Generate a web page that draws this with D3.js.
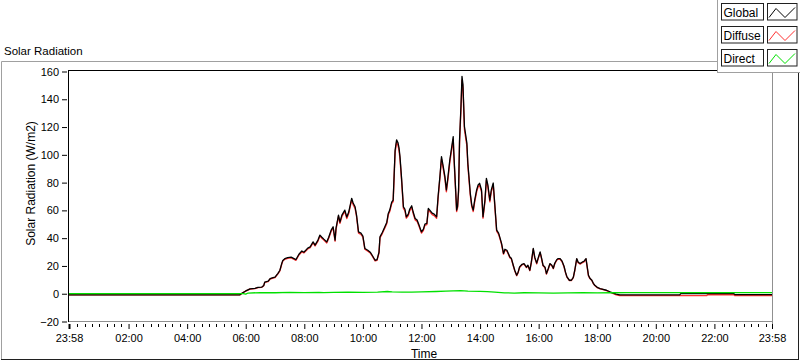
<!DOCTYPE html>
<html><head><meta charset="utf-8">
<script src="https://cdn.jsdelivr.net/npm/d3@7"></script>
<style>body{margin:0;background:#fff}svg{display:block;font-family:"Liberation Sans",Arial,sans-serif}</style>
</head><body><svg id="c" width="800" height="361"></svg>
<script>
// ---- data ----
const times = ["23:58","05:48","05:53","06:00","06:09","06:19","06:25","06:33","06:37","06:39","06:46","06:50","06:56","07:00","07:06","07:10","07:14","07:16","07:20","07:26","07:33","07:37","07:43","07:49","07:55","07:59","08:03","08:07","08:12","08:18","08:22","08:28","08:32","08:36","08:40","08:46","08:50","08:55","08:59","09:03","09:05","09:10","09:13","09:17","09:23","09:27","09:31","09:37","09:40","09:44","09:47","09:51","09:56","10:00","10:04","10:10","10:15","10:19","10:25","10:29","10:33","10:35","10:40","10:45","10:49","10:52","10:55","10:59","11:02","11:04","11:06","11:09","11:12","11:14","11:16","11:19","11:23","11:26","11:29","11:33","11:36","11:40","11:43","11:47","11:51","11:55","12:00","12:04","12:07","12:11","12:14","12:17","12:22","12:26","12:31","12:34","12:38","12:41","12:44","12:48","12:51","12:54","12:58","13:01","13:05","13:06","13:08","13:12","13:14","13:16","13:18","13:21","13:23","13:25","13:28","13:33","13:35","13:40","13:43","13:46","13:49","13:53","13:56","13:59","14:03","14:06","14:10","14:13","14:16","14:20","14:23","14:27","14:32","14:34","14:38","14:41","14:44","14:48","14:51","14:55","15:01","15:04","15:08","15:11","15:15","15:18","15:21","15:26","15:30","15:35","15:38","15:42","15:45","15:49","15:52","15:56","15:59","16:03","16:06","16:09","16:13","16:16","16:20","16:23","16:27","16:30","16:33","16:37","16:40","16:44","16:48","16:52","16:55","16:58","17:03","17:07","17:11","17:14","17:18","17:21","17:25","17:29","17:33","17:37","17:42","17:45","17:49","17:52","17:55","18:00","18:06","18:12","18:19","18:26","18:33","18:39","18:46","20:49","20:51","21:44","21:46","22:40","22:42","23:58"];
const globalVals = [-0.8,-0.8,0.5,2.0,3.5,3.9,4.6,4.8,6.0,8.4,9.0,10.9,11.6,12.0,14.7,16.9,22.0,24.0,25.2,26.0,26.3,25.6,24.6,28.4,30.8,29.9,31.3,32.8,33.7,37.3,35.0,38.6,42.2,40.7,39.3,37.3,40.7,45.8,48.2,38.6,47.2,56.6,51.6,56.6,60.2,55.2,58.8,68.7,65.3,62.6,56.6,44.5,43.6,41.4,32.6,31.3,29.9,27.7,24.1,24.5,29.9,40.9,44.3,48.2,51.5,57.8,60.2,66.0,67.4,85.5,103.5,110.8,108.6,105.0,98.7,84.3,62.6,61.0,55.4,57.3,61.0,63.3,58.8,54.2,53.0,49.4,44.5,46.5,50.1,50.6,61.4,60.2,58.0,57.3,55.4,69.8,85.5,98.7,92.7,84.3,74.7,83.3,96.3,103.5,113.1,103.5,89.1,60.2,63.1,74.7,110.8,136.0,156.5,150.5,120.4,108.4,93.9,72.3,63.8,60.2,67.4,74.7,78.3,79.5,74.7,55.4,67.4,83.1,78.3,67.4,74.7,79.7,55.4,45.8,43.6,40.0,36.2,29.0,32.0,31.3,26.5,25.6,20.5,16.9,13.3,15.5,19.3,21.2,21.7,19.1,20.5,16.9,22.7,32.6,26.3,22.0,25.6,30.1,25.6,20.5,19.1,14.5,18.3,21.7,20.5,18.3,21.9,24.5,25.3,25.2,23.4,19.8,15.5,12.1,9.7,9.7,11.8,16.9,25.3,22.7,21.7,22.7,23.4,25.3,13.3,11.1,9.7,7.5,6.1,4.6,3.7,3.2,2.5,1.4,0.5,-0.3,-0.8,-0.9,0.0,0.0,0.0,0.0,-0.6,-0.6];
const diffuseVals = [-0.8,-0.8,0.4,1.9,3.4,3.7,4.4,4.6,5.8,8.2,8.7,10.6,11.3,11.7,14.3,16.5,21.5,23.5,24.8,25.5,25.9,25.1,24.1,27.9,30.2,29.4,30.7,32.2,33.1,36.7,34.4,37.9,41.5,40.0,38.6,36.6,40.0,45.0,47.4,37.9,46.4,55.6,50.7,55.6,59.2,54.2,57.8,67.6,64.2,61.5,55.6,43.7,42.8,40.7,32.0,30.7,29.4,27.2,23.6,24.0,29.3,40.2,43.5,47.4,50.6,56.8,59.2,64.9,66.3,84.0,101.7,108.9,106.7,103.2,97.0,82.8,61.5,59.9,54.4,56.3,59.9,62.2,57.8,53.2,52.1,48.5,43.7,45.7,49.2,49.7,60.3,59.2,57.0,56.3,54.4,68.6,84.0,97.0,91.1,82.8,73.4,81.8,94.6,101.7,111.1,101.7,87.5,59.2,62.0,73.4,108.9,133.7,153.8,147.9,118.3,106.5,92.2,71.0,62.7,59.2,66.2,73.4,76.9,78.1,73.4,54.4,66.2,81.6,76.9,66.2,73.4,78.3,54.4,45.0,42.8,39.3,35.6,28.5,31.4,30.7,26.0,25.1,20.1,16.6,13.0,15.2,18.9,20.8,21.3,18.8,20.1,16.6,22.3,32.0,25.8,21.6,25.1,29.6,25.1,20.1,18.8,14.2,18.0,21.3,20.1,18.0,21.5,24.1,24.9,24.8,23.0,19.4,15.2,11.9,9.5,9.5,11.6,16.6,24.9,22.3,21.3,22.3,23.0,24.9,13.0,10.9,9.5,7.3,5.9,4.4,3.5,3.0,2.2,1.1,0.1,-0.8,-1.3,-1.4,-1.4,-1.4,-0.7,-0.7,-1.4,-1.4];
const directTimes = ["23:58","05:55","06:00","06:05","06:30","07:00","07:30","08:00","08:30","08:40","09:00","09:30","10:00","10:30","10:50","11:00","11:20","11:40","12:00","12:30","12:50","13:05","13:20","13:35","14:00","14:15","14:30","14:50","15:10","15:30","16:00","16:30","17:00","17:30","18:00","18:30","19:00","23:58"];
const directVals = [0.0,0.0,-0.3,0.5,0.8,0.7,0.9,0.8,1.0,0.8,1.0,1.1,0.9,1.2,1.6,1.3,1.1,1.2,1.4,1.6,1.8,2.0,2.3,1.9,1.7,1.5,1.2,0.6,0.5,0.7,0.6,0.5,0.6,0.7,0.6,0.7,0.8,0.8];
const yTicks = [-20,0,20,40,60,80,100,120,140,160];
const xTickTimes = ["23:58","02:00","04:00","06:00","08:00","10:00","12:00","14:00","16:00","18:00","20:00","22:00","23:58"];
const xTickLabels = ["23:58","02:00","04:00","06:00","08:00","10:00","12:00","14:00","16:00","18:00","20:00","22:00","23:58"];
const seriesNames = ["Global","Diffuse","Direct"];
const seriesColors = ["#000000","#ff3030","#00e000"];

// ---- helpers ----
function parseSeq(arr){
  let day=0, prev=-1;
  return arr.map(s=>{const [h,m]=s.split(":").map(Number);const mm=h*60+m;if(mm<prev)day++;prev=mm;return new Date(2000,0,1+day,h,m);});
}
const tG = parseSeq(times), tD = parseSeq(directTimes), tX = parseSeq(xTickTimes);
const start = tX[0], end = tX[tX.length-1];

const svg = d3.select("#c");
const L=69, R=772, T=70.5, B=321.5;
const x = d3.scaleTime().domain([start,end]).range([L,R]);
const y = d3.scaleLinear().domain([-20,160]).range([B,71.5]);

// outer frame
svg.append("line").attr("x1",1.5).attr("y1",61.5).attr("x2",718).attr("y2",61.5).attr("stroke","#a0a0a0");
svg.append("line").attr("x1",1.5).attr("y1",61.5).attr("x2",1.5).attr("y2",359.5).attr("stroke","#a0a0a0");
svg.append("line").attr("x1",1).attr("y1",359.5).attr("x2",799).attr("y2",359.5).attr("stroke","#202020");
svg.append("line").attr("x1",798.5).attr("y1",72).attr("x2",798.5).attr("y2",359.5).attr("stroke","#202020");

// title
svg.append("text").attr("x",4).attr("y",55).attr("font-size","11.5px").attr("fill","#000").text("Solar Radiation");

// plot frame
svg.append("line").attr("x1",R+0.5).attr("y1",T).attr("x2",R+0.5).attr("y2",B+6).attr("stroke","#909090");
svg.append("line").attr("x1",L).attr("y1",B).attr("x2",R+1).attr("y2",B).attr("stroke","#909090");

// series
svg.append("clipPath").attr("id","pc").append("rect").attr("x",L).attr("y",T).attr("width",R-L).attr("height",B-T);
const line = d3.line().x(d=>x(d[0])).y(d=>y(d[1]));
const g = svg.append("g").attr("clip-path","url(#pc)");
g.append("path").attr("d",line(tG.map((t,i)=>[t,diffuseVals[i]]))).attr("fill","none").attr("stroke",seriesColors[1]).attr("stroke-width",1.4).attr("stroke-linejoin","round");
g.append("path").attr("d",line(tG.map((t,i)=>[t,globalVals[i]]))).attr("fill","none").attr("stroke",seriesColors[0]).attr("stroke-width",1.3).attr("stroke-linejoin","round");
g.append("path").attr("d",line(tD.map((t,i)=>[t,directVals[i]]))).attr("fill","none").attr("stroke",seriesColors[2]).attr("stroke-width",1.3).attr("stroke-linejoin","round");

// axes lines (black left & top)
svg.append("line").attr("x1",L-0.5).attr("y1",T).attr("x2",L-0.5).attr("y2",B+0.5).attr("stroke","#000");
svg.append("line").attr("x1",L-1).attr("y1",T).attr("x2",718).attr("y2",T).attr("stroke","#000");

// y axis
const ya = svg.append("g").attr("transform",`translate(${L-2},0)`)
  .call(d3.axisLeft(y).tickValues(yTicks).tickSize(5).tickPadding(3));
ya.select(".domain").remove();
ya.selectAll("text").attr("font-size","11px").attr("font-family","Liberation Sans, Arial, sans-serif").attr("fill","#000");
ya.selectAll("line").attr("stroke","#000");

// x axis minor ticks
const minor = d3.timeMinute.every(15).range(new Date(2000,0,2,0,15), end).filter(d=>!(d.getMinutes()===0 && d.getHours()%2===0));
svg.append("g").selectAll("line").data(minor).join("line")
  .attr("x1",d=>Math.round(x(d))+0.5).attr("x2",d=>Math.round(x(d))+0.5).attr("y1",324).attr("y2",327).attr("stroke","#000");
const xa = svg.append("g").attr("transform",`translate(0,324)`)
  .call(d3.axisBottom(x).tickValues(tX).tickFormat((d,i)=>xTickLabels[i]).tickSize(5).tickPadding(5));
xa.select(".domain").remove();
xa.selectAll("text").attr("font-size","11px").attr("font-family","Liberation Sans, Arial, sans-serif").attr("fill","#000");
xa.selectAll("line").attr("stroke","#000");
xa.select(".tick line").attr("stroke-width",2);

// axis titles
svg.append("text").attr("transform","translate(35,183.5) rotate(-90)").attr("text-anchor","middle").attr("font-size","12px").attr("fill","#000").text("Solar Radiation (W/m2)");
svg.append("text").attr("x",424).attr("y",357.5).attr("text-anchor","middle").attr("font-size","12px").attr("fill","#000").text("Time");

// legend
const lg = svg.append("g");
lg.append("rect").attr("x",717.5).attr("y",-1).attr("width",90).attr("height",73.5).attr("fill","#fff").attr("stroke","#a0a0a0");
const rowY = [3.5,26.5,49.5];
seriesNames.forEach((n,i)=>{
  const y0 = rowY[i];
  lg.append("rect").attr("x",721.5).attr("y",y0).attr("width",42).attr("height",16.5).attr("fill","#fff").attr("stroke","#202020");
  lg.append("text").attr("x",723.5).attr("y",y0+13).attr("font-size","12px").attr("fill","#000").text(n);
  lg.append("rect").attr("x",767.5).attr("y",y0).attr("width",29.5).attr("height",16.5).attr("fill","#fff").attr("stroke","#202020");
  lg.append("path").attr("d",`M769,${y0+14}L776,${y0+5}L785,${y0+14}L795,${y0+4}`).attr("fill","none").attr("stroke",seriesColors[i]).attr("stroke-width",1);
});
</script></body></html>
